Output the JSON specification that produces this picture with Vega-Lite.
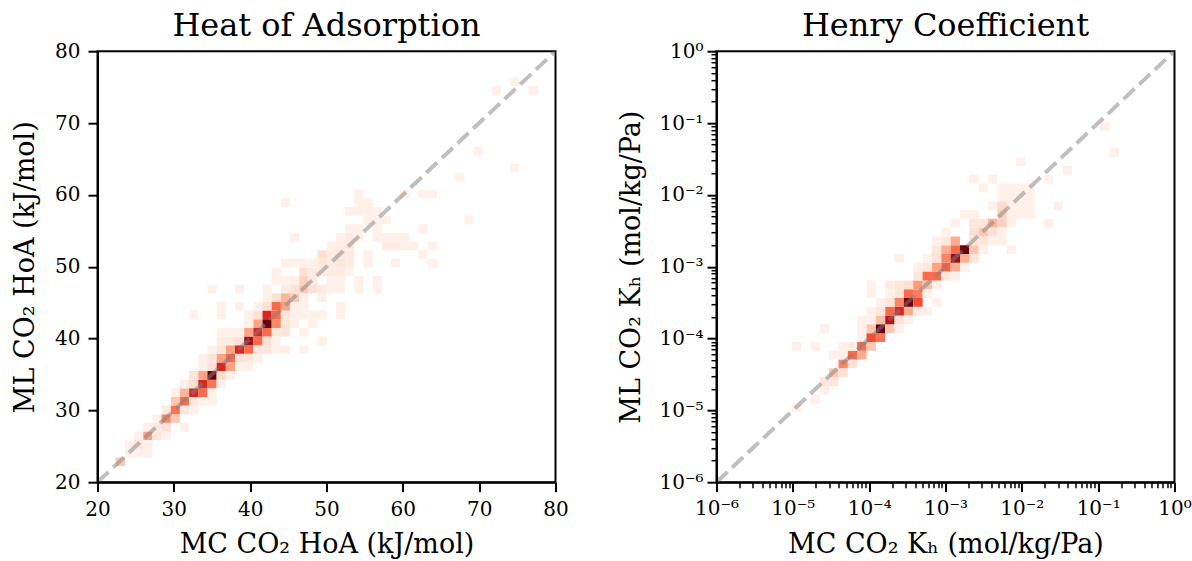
{
  "$schema": "https://vega.github.io/schema/vega-lite/v6.json",
  "background": "white",
  "padding": {"left": 9.5, "top": 8.2, "right": 5, "bottom": 3},
  "bounds": "flush",
  "spacing": 161,
  "datasets": {
    "hoa": [
      {"mc":22.92,"ml":22.92,"n":7},
      {"mc":24.12,"ml":24.12,"n":1},{"mc":25.33,"ml":24.12,"n":1},{"mc":26.53,"ml":24.12,"n":1},
      {"mc":24.12,"ml":25.33,"n":1},{"mc":25.33,"ml":25.33,"n":3},{"mc":26.53,"ml":25.33,"n":1},
      {"mc":25.33,"ml":26.53,"n":1},{"mc":26.53,"ml":26.53,"n":11},{"mc":27.73,"ml":26.53,"n":3},{"mc":28.93,"ml":26.53,"n":1},
      {"mc":26.53,"ml":27.73,"n":1},{"mc":27.73,"ml":27.73,"n":3},{"mc":28.93,"ml":27.73,"n":4},{"mc":31.34,"ml":27.73,"n":1},
      {"mc":27.73,"ml":28.93,"n":1},{"mc":28.93,"ml":28.93,"n":14},{"mc":30.13,"ml":28.93,"n":7},
      {"mc":28.93,"ml":30.13,"n":2},{"mc":30.13,"ml":30.13,"n":16},{"mc":31.34,"ml":30.13,"n":3},{"mc":32.54,"ml":30.13,"n":1},
      {"mc":30.13,"ml":31.34,"n":7},{"mc":31.34,"ml":31.34,"n":17},{"mc":32.54,"ml":31.34,"n":3},{"mc":33.74,"ml":31.34,"n":1},{"mc":34.94,"ml":31.34,"n":1},
      {"mc":30.13,"ml":32.54,"n":1},{"mc":31.34,"ml":32.54,"n":9},{"mc":32.54,"ml":32.54,"n":24},{"mc":33.74,"ml":32.54,"n":17},{"mc":34.94,"ml":32.54,"n":1},
      {"mc":31.34,"ml":33.74,"n":1},{"mc":32.54,"ml":33.74,"n":4},{"mc":33.74,"ml":33.74,"n":24},{"mc":34.94,"ml":33.74,"n":16},{"mc":36.14,"ml":33.74,"n":1},
      {"mc":32.54,"ml":34.94,"n":3},{"mc":33.74,"ml":34.94,"n":11},{"mc":34.94,"ml":34.94,"n":34},{"mc":36.14,"ml":34.94,"n":5},{"mc":37.35,"ml":34.94,"n":1},
      {"mc":33.74,"ml":36.14,"n":1},{"mc":34.94,"ml":36.14,"n":4},{"mc":36.14,"ml":36.14,"n":24},{"mc":37.35,"ml":36.14,"n":11},{"mc":38.55,"ml":36.14,"n":1},{"mc":39.75,"ml":36.14,"n":1},
      {"mc":33.74,"ml":37.35,"n":1},{"mc":34.94,"ml":37.35,"n":3},{"mc":36.14,"ml":37.35,"n":11},{"mc":37.35,"ml":37.35,"n":17},{"mc":38.55,"ml":37.35,"n":4},{"mc":39.75,"ml":37.35,"n":3},{"mc":40.95,"ml":37.35,"n":1},
      {"mc":34.94,"ml":38.55,"n":1},{"mc":36.14,"ml":38.55,"n":3},{"mc":37.35,"ml":38.55,"n":11},{"mc":38.55,"ml":38.55,"n":24},{"mc":39.75,"ml":38.55,"n":17},{"mc":40.95,"ml":38.55,"n":3},{"mc":42.15,"ml":38.55,"n":3},{"mc":43.36,"ml":38.55,"n":1},{"mc":44.56,"ml":38.55,"n":1},{"mc":46.96,"ml":38.55,"n":1},
      {"mc":36.14,"ml":39.75,"n":2},{"mc":37.35,"ml":39.75,"n":2},{"mc":38.55,"ml":39.75,"n":4},{"mc":39.75,"ml":39.75,"n":30},{"mc":40.95,"ml":39.75,"n":17},{"mc":42.15,"ml":39.75,"n":4},{"mc":43.36,"ml":39.75,"n":1},{"mc":49.37,"ml":39.75,"n":1},
      {"mc":36.14,"ml":40.95,"n":1},{"mc":37.35,"ml":40.95,"n":1},{"mc":38.55,"ml":40.95,"n":1},{"mc":39.75,"ml":40.95,"n":11},{"mc":40.95,"ml":40.95,"n":24},{"mc":42.15,"ml":40.95,"n":17},{"mc":43.36,"ml":40.95,"n":3},{"mc":44.56,"ml":40.95,"n":3},{"mc":46.96,"ml":40.95,"n":1},
      {"mc":39.75,"ml":42.15,"n":1},{"mc":40.95,"ml":42.15,"n":11},{"mc":42.15,"ml":42.15,"n":34},{"mc":43.36,"ml":42.15,"n":14},{"mc":44.56,"ml":42.15,"n":3},{"mc":45.76,"ml":42.15,"n":1},{"mc":48.16,"ml":42.15,"n":1},
      {"mc":32.54,"ml":43.36,"n":1},{"mc":36.14,"ml":43.36,"n":1},{"mc":39.75,"ml":43.36,"n":1},{"mc":40.95,"ml":43.36,"n":4},{"mc":42.15,"ml":43.36,"n":24},{"mc":43.36,"ml":43.36,"n":17},{"mc":44.56,"ml":43.36,"n":3},{"mc":45.76,"ml":43.36,"n":1},{"mc":46.96,"ml":43.36,"n":1},{"mc":48.16,"ml":43.36,"n":1},{"mc":49.37,"ml":43.36,"n":1},{"mc":51.77,"ml":43.36,"n":1},
      {"mc":36.14,"ml":44.56,"n":1},{"mc":38.55,"ml":44.56,"n":1},{"mc":40.95,"ml":44.56,"n":1},{"mc":42.15,"ml":44.56,"n":4},{"mc":43.36,"ml":44.56,"n":17},{"mc":44.56,"ml":44.56,"n":11},{"mc":45.76,"ml":44.56,"n":1},{"mc":46.96,"ml":44.56,"n":1},{"mc":51.77,"ml":44.56,"n":1},
      {"mc":42.15,"ml":45.76,"n":1},{"mc":43.36,"ml":45.76,"n":4},{"mc":44.56,"ml":45.76,"n":9},{"mc":45.76,"ml":45.76,"n":7},{"mc":46.96,"ml":45.76,"n":1},{"mc":49.37,"ml":45.76,"n":1},
      {"mc":34.94,"ml":46.96,"n":1},{"mc":38.55,"ml":46.96,"n":1},{"mc":42.15,"ml":46.96,"n":1},{"mc":44.56,"ml":46.96,"n":2},{"mc":45.76,"ml":46.96,"n":4},{"mc":46.96,"ml":46.96,"n":7},{"mc":48.16,"ml":46.96,"n":4},{"mc":49.37,"ml":46.96,"n":2},{"mc":50.57,"ml":46.96,"n":1},{"mc":51.77,"ml":46.96,"n":1},{"mc":54.17,"ml":46.96,"n":1},{"mc":56.58,"ml":46.96,"n":1},
      {"mc":43.36,"ml":48.16,"n":1},{"mc":44.56,"ml":48.16,"n":1},{"mc":45.76,"ml":48.16,"n":1},{"mc":46.96,"ml":48.16,"n":6},{"mc":48.16,"ml":48.16,"n":2},{"mc":50.57,"ml":48.16,"n":1},{"mc":51.77,"ml":48.16,"n":1},{"mc":54.17,"ml":48.16,"n":1},{"mc":56.58,"ml":48.16,"n":1},
      {"mc":43.36,"ml":49.37,"n":1},{"mc":46.96,"ml":49.37,"n":4},{"mc":48.16,"ml":49.37,"n":2},{"mc":49.37,"ml":49.37,"n":2},{"mc":50.57,"ml":49.37,"n":2},{"mc":51.77,"ml":49.37,"n":2},{"mc":52.97,"ml":49.37,"n":1},
      {"mc":44.56,"ml":50.57,"n":1},{"mc":45.76,"ml":50.57,"n":1},{"mc":46.96,"ml":50.57,"n":1},{"mc":48.16,"ml":50.57,"n":1},{"mc":49.37,"ml":50.57,"n":3},{"mc":50.57,"ml":50.57,"n":2},{"mc":51.77,"ml":50.57,"n":3},{"mc":52.97,"ml":50.57,"n":2},{"mc":55.38,"ml":50.57,"n":1},{"mc":58.98,"ml":50.57,"n":1},{"mc":63.79,"ml":50.57,"n":1},
      {"mc":49.37,"ml":51.77,"n":4},{"mc":50.57,"ml":51.77,"n":2},{"mc":51.77,"ml":51.77,"n":3},{"mc":52.97,"ml":51.77,"n":2},{"mc":55.38,"ml":51.77,"n":1},{"mc":62.59,"ml":51.77,"n":1},
      {"mc":50.57,"ml":52.97,"n":1},{"mc":51.77,"ml":52.97,"n":2},{"mc":52.97,"ml":52.97,"n":2},{"mc":57.78,"ml":52.97,"n":2},{"mc":58.98,"ml":52.97,"n":2},{"mc":60.18,"ml":52.97,"n":1},{"mc":61.39,"ml":52.97,"n":1},{"mc":63.79,"ml":52.97,"n":1},
      {"mc":45.76,"ml":54.17,"n":1},{"mc":51.77,"ml":54.17,"n":1},{"mc":52.97,"ml":54.17,"n":2},{"mc":54.17,"ml":54.17,"n":1},{"mc":56.58,"ml":54.17,"n":1},{"mc":57.78,"ml":54.17,"n":1},{"mc":58.98,"ml":54.17,"n":1},{"mc":60.18,"ml":54.17,"n":1},
      {"mc":52.97,"ml":55.38,"n":1},{"mc":54.17,"ml":55.38,"n":1},{"mc":56.58,"ml":55.38,"n":1},{"mc":62.59,"ml":55.38,"n":1},
      {"mc":55.38,"ml":56.58,"n":1},{"mc":56.58,"ml":56.58,"n":1},{"mc":57.78,"ml":56.58,"n":1},{"mc":68.60,"ml":56.58,"n":1},
      {"mc":52.97,"ml":57.78,"n":1},{"mc":54.17,"ml":57.78,"n":1},{"mc":55.38,"ml":57.78,"n":1},{"mc":56.58,"ml":57.78,"n":1},
      {"mc":44.56,"ml":58.98,"n":1},{"mc":54.17,"ml":58.98,"n":1},{"mc":55.38,"ml":58.98,"n":1},
      {"mc":54.17,"ml":60.18,"n":1},{"mc":60.18,"ml":60.18,"n":1},{"mc":62.59,"ml":60.18,"n":1},{"mc":63.79,"ml":60.18,"n":1},
      {"mc":67.40,"ml":62.59,"n":1},
      {"mc":74.61,"ml":63.79,"n":1},
      {"mc":69.80,"ml":66.19,"n":1},
      {"mc":72.20,"ml":74.61,"n":1},{"mc":77.01,"ml":74.61,"n":1},
      {"mc":74.61,"ml":75.81,"n":1}
    ],
    "kh": [
      {"mc":-4.959,"ml":-4.959,"n":1},
      {"mc":-4.714,"ml":-4.837,"n":1},
      {"mc":-4.592,"ml":-4.714,"n":1},
      {"mc":-4.592,"ml":-4.592,"n":3},{"mc":-4.469,"ml":-4.592,"n":3},
      {"mc":-4.469,"ml":-4.469,"n":7},{"mc":-4.347,"ml":-4.469,"n":4},
      {"mc":-4.347,"ml":-4.347,"n":14},{"mc":-4.224,"ml":-4.347,"n":4},
      {"mc":-4.469,"ml":-4.224,"n":1},{"mc":-4.347,"ml":-4.224,"n":1},{"mc":-4.224,"ml":-4.224,"n":17},{"mc":-4.102,"ml":-4.224,"n":10},
      {"mc":-4.959,"ml":-4.102,"n":1},{"mc":-4.714,"ml":-4.102,"n":1},{"mc":-4.347,"ml":-4.102,"n":1},{"mc":-4.224,"ml":-4.102,"n":2},{"mc":-4.102,"ml":-4.102,"n":17},{"mc":-3.980,"ml":-4.102,"n":7},
      {"mc":-4.102,"ml":-3.980,"n":1},{"mc":-3.980,"ml":-3.980,"n":20},{"mc":-3.857,"ml":-3.980,"n":16},
      {"mc":-4.592,"ml":-3.857,"n":1},{"mc":-4.102,"ml":-3.857,"n":1},{"mc":-3.980,"ml":-3.857,"n":7},{"mc":-3.857,"ml":-3.857,"n":34},{"mc":-3.735,"ml":-3.857,"n":7},{"mc":-3.612,"ml":-3.857,"n":1},
      {"mc":-4.102,"ml":-3.735,"n":1},{"mc":-3.980,"ml":-3.735,"n":1},{"mc":-3.857,"ml":-3.735,"n":8},{"mc":-3.735,"ml":-3.735,"n":28},{"mc":-3.612,"ml":-3.735,"n":4},{"mc":-3.490,"ml":-3.735,"n":1},
      {"mc":-3.980,"ml":-3.612,"n":1},{"mc":-3.857,"ml":-3.612,"n":3},{"mc":-3.735,"ml":-3.612,"n":17},{"mc":-3.612,"ml":-3.612,"n":24},{"mc":-3.490,"ml":-3.612,"n":10},{"mc":-3.367,"ml":-3.612,"n":2},{"mc":-3.245,"ml":-3.612,"n":1},
      {"mc":-3.857,"ml":-3.490,"n":1},{"mc":-3.735,"ml":-3.490,"n":3},{"mc":-3.612,"ml":-3.490,"n":14},{"mc":-3.490,"ml":-3.490,"n":34},{"mc":-3.367,"ml":-3.490,"n":20},{"mc":-3.122,"ml":-3.490,"n":1},
      {"mc":-3.980,"ml":-3.367,"n":1},{"mc":-3.735,"ml":-3.367,"n":1},{"mc":-3.612,"ml":-3.367,"n":3},{"mc":-3.490,"ml":-3.367,"n":17},{"mc":-3.367,"ml":-3.367,"n":15},{"mc":-3.245,"ml":-3.367,"n":1},
      {"mc":-3.980,"ml":-3.245,"n":1},{"mc":-3.735,"ml":-3.245,"n":2},{"mc":-3.612,"ml":-3.245,"n":3},{"mc":-3.490,"ml":-3.245,"n":4},{"mc":-3.367,"ml":-3.245,"n":12},{"mc":-3.245,"ml":-3.245,"n":8},{"mc":-3.122,"ml":-3.245,"n":1},
      {"mc":-3.367,"ml":-3.122,"n":3},{"mc":-3.245,"ml":-3.122,"n":17},{"mc":-3.122,"ml":-3.122,"n":17},{"mc":-3.000,"ml":-3.122,"n":3},{"mc":-2.878,"ml":-3.122,"n":1},
      {"mc":-3.367,"ml":-3.000,"n":1},{"mc":-3.245,"ml":-3.000,"n":3},{"mc":-3.122,"ml":-3.000,"n":11},{"mc":-3.000,"ml":-3.000,"n":18},{"mc":-2.878,"ml":-3.000,"n":10},{"mc":-2.755,"ml":-3.000,"n":1},
      {"mc":-3.612,"ml":-2.878,"n":1},{"mc":-3.245,"ml":-2.878,"n":1},{"mc":-3.122,"ml":-2.878,"n":4},{"mc":-3.000,"ml":-2.878,"n":14},{"mc":-2.878,"ml":-2.878,"n":30},{"mc":-2.755,"ml":-2.878,"n":10},{"mc":-2.633,"ml":-2.878,"n":3},
      {"mc":-3.122,"ml":-2.755,"n":3},{"mc":-3.000,"ml":-2.755,"n":10},{"mc":-2.878,"ml":-2.755,"n":17},{"mc":-2.755,"ml":-2.755,"n":34},{"mc":-2.633,"ml":-2.755,"n":7},{"mc":-2.510,"ml":-2.755,"n":1},{"mc":-2.143,"ml":-2.755,"n":1},
      {"mc":-3.122,"ml":-2.633,"n":1},{"mc":-3.000,"ml":-2.633,"n":3},{"mc":-2.878,"ml":-2.633,"n":10},{"mc":-2.633,"ml":-2.633,"n":4},{"mc":-2.510,"ml":-2.633,"n":3},{"mc":-2.388,"ml":-2.633,"n":1},{"mc":-2.265,"ml":-2.633,"n":1},
      {"mc":-3.000,"ml":-2.510,"n":1},{"mc":-2.633,"ml":-2.510,"n":4},{"mc":-2.510,"ml":-2.510,"n":7},{"mc":-2.388,"ml":-2.510,"n":4},{"mc":-2.265,"ml":-2.510,"n":1},
      {"mc":-2.878,"ml":-2.388,"n":1},{"mc":-2.633,"ml":-2.388,"n":3},{"mc":-2.510,"ml":-2.388,"n":3},{"mc":-2.388,"ml":-2.388,"n":9},{"mc":-2.265,"ml":-2.388,"n":6},{"mc":-2.143,"ml":-2.388,"n":1},{"mc":-1.653,"ml":-2.388,"n":1},
      {"mc":-2.755,"ml":-2.265,"n":1},{"mc":-2.633,"ml":-2.265,"n":1},{"mc":-2.265,"ml":-2.265,"n":6},{"mc":-2.143,"ml":-2.265,"n":1},{"mc":-2.020,"ml":-2.265,"n":1},{"mc":-1.898,"ml":-2.265,"n":1},
      {"mc":-2.388,"ml":-2.143,"n":1},{"mc":-2.265,"ml":-2.143,"n":5},{"mc":-2.143,"ml":-2.143,"n":1},{"mc":-2.020,"ml":-2.143,"n":1},{"mc":-1.898,"ml":-2.143,"n":1},{"mc":-1.531,"ml":-2.143,"n":1},
      {"mc":-2.265,"ml":-2.020,"n":1},{"mc":-2.143,"ml":-2.020,"n":1},{"mc":-2.020,"ml":-2.020,"n":1},{"mc":-1.898,"ml":-2.020,"n":1},
      {"mc":-2.510,"ml":-1.898,"n":1},{"mc":-2.265,"ml":-1.898,"n":1},{"mc":-2.143,"ml":-1.898,"n":1},{"mc":-2.020,"ml":-1.898,"n":1},{"mc":-1.898,"ml":-1.898,"n":1},
      {"mc":-2.633,"ml":-1.776,"n":1},{"mc":-2.388,"ml":-1.776,"n":1},{"mc":-1.653,"ml":-1.776,"n":1},
      {"mc":-1.408,"ml":-1.653,"n":1},
      {"mc":-2.020,"ml":-1.531,"n":1},
      {"mc":-0.796,"ml":-1.408,"n":1},
      {"mc":-0.918,"ml":-1.041,"n":1}
    ],
    "diag1": [{"v": 20}, {"v": 80}],
    "diag2": [{"v": -6}, {"v": 0}]
  },
  "hconcat": [
    {
      "width": 458,
      "height": 431,
      "title": "Heat of Adsorption",
      "layer": [
        {
          "data": {"name": "hoa"},
          "mark": {"type": "rect", "clip": true},
          "encoding": {
            "x": {"field": "mc", "type": "quantitative", "bin": {"step": 1.202, "anchor": 22.32, "extent": [22.32, 82.42], "nice": false},
                  "scale": {"domain": [20, 80], "nice": false, "zero": false},
                  "axis": {"values": [20, 30, 40, 50, 60, 70, 80], "title": "MC CO₂ HoA (kJ/mol)", "format": "d", "labelPadding": 8, "titlePadding": 11.5}},
            "y": {"field": "ml", "type": "quantitative", "bin": {"step": 1.202, "anchor": 22.32, "extent": [22.32, 82.42], "nice": false},
                  "scale": {"domain": [20, 80], "nice": false, "zero": false},
                  "axis": {"values": [20, 30, 40, 50, 60, 70, 80], "title": "ML CO₂ HoA (kJ/mol)", "format": "d", "labelPadding": 8, "titlePadding": 15.5}},
            "color": {"field": "n", "type": "quantitative",
                      "scale": {"domain": [0, 4.25, 8.5, 12.75, 17, 21.25, 25.5, 29.75, 34],
                                "range": ["#fff5f0", "#fee0d2", "#fcbba1", "#fc9272", "#fb6a4a", "#ef3b2c", "#cb181d", "#a50f15", "#67000d"]},
                      "legend": null}
          }
        },
        {
          "data": {"name": "diag1"},
          "mark": {"type": "line", "color": "#808080", "opacity": 0.5, "strokeWidth": 4, "strokeDash": [15, 6.5], "clip": true},
          "encoding": {
            "x": {"field": "v", "type": "quantitative"},
            "y": {"field": "v", "type": "quantitative"}
          }
        }
      ]
    },
    {
      "width": 458,
      "height": 431,
      "title": "Henry Coefficient",
      "layer": [
        {
          "data": {"name": "kh"},
          "mark": {"type": "rect", "clip": true},
          "encoding": {
            "x": {"field": "mc", "type": "quantitative", "bin": {"step": 0.122449, "anchor": -6, "extent": [-6, 0], "nice": false},
                  "scale": {"domain": [-6, 0], "nice": false, "zero": false},
                  "axis": {"values": [-6, -5, -4, -3, -2, -1, 0], "title": "MC CO₂ Kₕ (mol/kg/Pa)", "labelPadding": 7, "titlePadding": 12.5,
                           "labelExpr": "'10' + ['⁻⁶','⁻⁵','⁻⁴','⁻³','⁻²','⁻¹','⁰'][round(datum.value) + 6]"}},
            "y": {"field": "ml", "type": "quantitative", "bin": {"step": 0.122449, "anchor": -6, "extent": [-6, 0], "nice": false},
                  "scale": {"domain": [-6, 0], "nice": false, "zero": false},
                  "axis": {"values": [-6, -5, -4, -3, -2, -1, 0], "title": "ML CO₂ Kₕ (mol/kg/Pa)", "labelPadding": 4, "titlePadding": 13,
                           "labelExpr": "'10' + ['⁻⁶','⁻⁵','⁻⁴','⁻³','⁻²','⁻¹','⁰'][round(datum.value) + 6]"}},
            "color": {"field": "n", "type": "quantitative",
                      "scale": {"domain": [0, 4.25, 8.5, 12.75, 17, 21.25, 25.5, 29.75, 34],
                                "range": ["#fff5f0", "#fee0d2", "#fcbba1", "#fc9272", "#fb6a4a", "#ef3b2c", "#cb181d", "#a50f15", "#67000d"]},
                      "legend": null}
          }
        },
        {
          "data": {"name": "diag2"},
          "mark": {"type": "line", "color": "#808080", "opacity": 0.5, "strokeWidth": 4, "strokeDash": [15, 6.5], "clip": true},
          "encoding": {
            "x": {"field": "v", "type": "quantitative",
                  "axis": {"orient": "bottom", "title": null, "labels": false, "domain": false, "tickSize": 5.5, "tickWidth": 1.5,
                           "values": [-5.699,-5.523,-5.398,-5.301,-5.222,-5.155,-5.097,-5.046,-4.699,-4.523,-4.398,-4.301,-4.222,-4.155,-4.097,-4.046,-3.699,-3.523,-3.398,-3.301,-3.222,-3.155,-3.097,-3.046,-2.699,-2.523,-2.398,-2.301,-2.222,-2.155,-2.097,-2.046,-1.699,-1.523,-1.398,-1.301,-1.222,-1.155,-1.097,-1.046,-0.699,-0.523,-0.398,-0.301,-0.222,-0.155,-0.097,-0.046]}},
            "y": {"field": "v", "type": "quantitative",
                  "axis": {"orient": "left", "title": null, "labels": false, "domain": false, "tickSize": 5.5, "tickWidth": 1.5,
                           "values": [-5.699,-5.523,-5.398,-5.301,-5.222,-5.155,-5.097,-5.046,-4.699,-4.523,-4.398,-4.301,-4.222,-4.155,-4.097,-4.046,-3.699,-3.523,-3.398,-3.301,-3.222,-3.155,-3.097,-3.046,-2.699,-2.523,-2.398,-2.301,-2.222,-2.155,-2.097,-2.046,-1.699,-1.523,-1.398,-1.301,-1.222,-1.155,-1.097,-1.046,-0.699,-0.523,-0.398,-0.301,-0.222,-0.155,-0.097,-0.046]}}
          }
        }
      ],
      "resolve": {"axis": {"x": "independent", "y": "independent"}}
    }
  ],
  "config": {
    "font": "DejaVu Serif",
    "view": {"stroke": "black", "strokeWidth": 2},
    "axis": {
      "labelFont": "DejaVu Serif", "labelFontSize": 20, "labelColor": "black",
      "titleFont": "DejaVu Serif", "titleFontSize": 27, "titleFontWeight": "normal", "titleColor": "black",
      "tickColor": "black", "tickSize": 9.5, "tickWidth": 2,
      "grid": false, "domainColor": "black", "domainWidth": 2,
      "labelFlush": false, "labelOverlap": false
    },
    "title": {"font": "DejaVu Serif", "fontSize": 32, "fontWeight": "normal", "color": "black", "offset": -1.5, "anchor": "middle"}
  }
}
